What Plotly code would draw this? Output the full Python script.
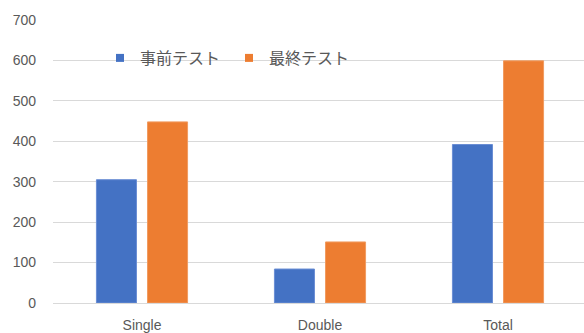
import plotly.graph_objects as go

categories = ["Single", "Double", "Total"]
series_names = ["事前テスト", "最終テスト"]
pre_values = [305, 84, 392]
post_values = [448, 151, 599]
y_ticks = [0, 100, 200, 300, 400, 500, 600, 700]

colors = ["#4472C4", "#ED7D31"]
edge_colors = ["#6A8ED4", "#F19B60"]

fig = go.Figure()
for name, vals, c, ec in zip(series_names, [pre_values, post_values], colors, edge_colors):
    fig.add_trace(go.Bar(x=categories, y=vals, name=name, marker=dict(color=c, line=dict(color=ec, width=1)),
                         showlegend=False))
# legend entries with small square symbols
for name, c in zip(series_names, colors):
    fig.add_trace(go.Scatter(x=[None], y=[None], mode="markers", name=name,
                             marker=dict(symbol="square", size=8, color=c)))

W, H = 584, 333
L, R, T, B = 53, 0, 20, 30
pw = W - L - R
ph = H - T - B

def px_to_paper_x(px):
    return (px - L) / pw

def px_to_paper_y(py):
    return (H - B - py) / ph

fig.add_shape(type="rect", xref="paper", yref="y", x0=px_to_paper_x(89), x1=px_to_paper_x(382),
              y0=585, y1=615, fillcolor="white", line=dict(width=0), layer="between")

fig.update_layout(
    width=W, height=H,
    margin=dict(l=L, r=R, t=T, b=B),
    paper_bgcolor="white", plot_bgcolor="white",
    barmode="group", bargap=0.426, bargroupgap=0.216,
    legend=dict(orientation="h", x=px_to_paper_x(100), xanchor="left",
                y=px_to_paper_y(58), yanchor="middle",
                font=dict(family="Noto Sans CJK JP", size=16, color="#595959"),
                bgcolor="rgba(0,0,0,0)", entrywidth=84, entrywidthmode="pixels"),
    font=dict(family="Liberation Sans, Arial", size=14, color="#595959"),
)
fig.update_xaxes(range=[-0.5, 2.5 - 3 / 177.8], showgrid=False, showline=False, ticks="",
                 ticklabelstandoff=12, tickfont=dict(size=14, color="#595959"))
fig.update_yaxes(range=[0, 700], tickvals=y_ticks, showgrid=True, gridcolor="#D9D9D9", gridwidth=1,
                 zeroline=True, zerolinecolor="#D9D9D9", zerolinewidth=1, showline=False, ticks="",
                 ticklabelstandoff=16, tickfont=dict(size=14, color="#595959"))

fig.write_html("out.html")
